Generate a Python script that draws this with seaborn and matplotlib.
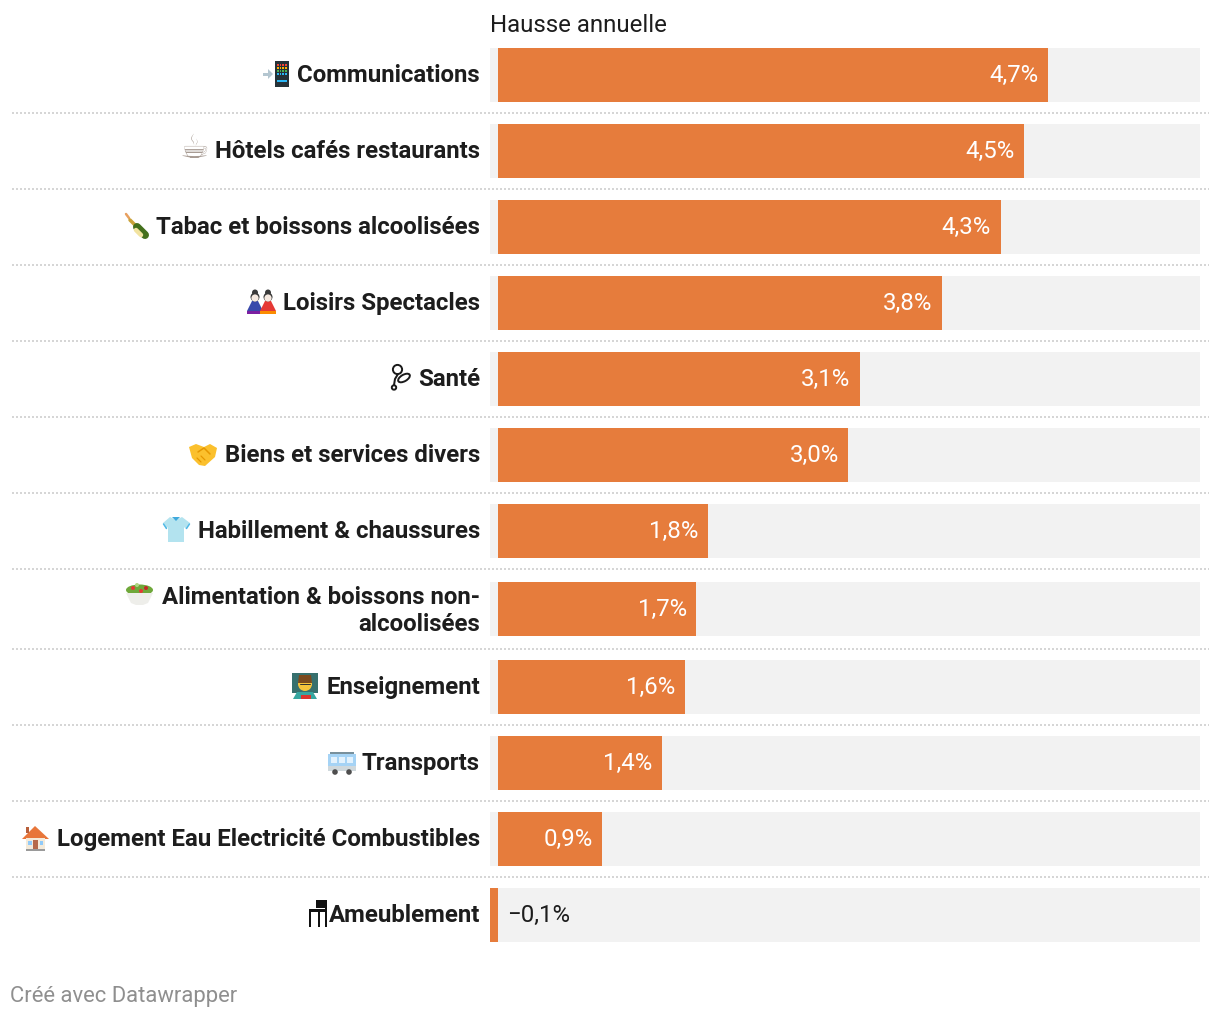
import matplotlib
matplotlib.use("Agg")
import matplotlib.pyplot as plt
from matplotlib.lines import Line2D
from matplotlib.patches import Rectangle, Circle, Polygon, Ellipse
from matplotlib.transforms import ScaledTranslation
import seaborn as sns
import pandas as pd

categories = ["Communications", "Hôtels cafés restaurants", "Tabac et boissons alcoolisées",
              "Loisirs Spectacles", "Santé", "Biens et services divers", "Habillement & chaussures",
              "Alimentation & boissons non-\nalcoolisées", "Enseignement", "Transports",
              "Logement Eau Electricité Combustibles", "Ameublement"]
values = [4.7, 4.5, 4.295, 3.797, 3.095, 2.995, 1.797, 1.695, 1.595, 1.4, 0.893, -0.068]
value_labels = ["4,7%", "4,5%", "4,3%", "3,8%", "3,1%", "3,0%", "1,8%", "1,7%", "1,6%", "1,4%", "0,9%", "−0,1%"]
title = "Hausse annuelle"
credit = "Créé avec Datawrapper"

# layout (pixels)
W, H = 1220, 1018
row_centers = [75, 151, 227, 303, 379, 455, 531, 609, 687, 763, 839, 915]
rule_y = [113, 189, 265, 341, 417, 493, 569, 649, 725, 801, 877]
ORANGE, TRACK, INK = "#e67c3c", "#f2f2f2", "#1d1d1d"
FS = 24 * 0.72

sns.set_theme(style="white")
plt.rcParams["font.family"] = ["Roboto", "DejaVu Sans"]

fig = plt.figure(figsize=(W / 100, H / 100), dpi=100, facecolor="white")
ax = fig.add_axes([490 / W, 0, 710 / W, 1])
ax.patch.set_alpha(0)
df = pd.DataFrame({"cat": categories, "value": values, "pos": row_centers})

ax.barh(row_centers, [6.0 + 0.068] * len(values), left=-0.068, height=54, color=TRACK, lw=0, zorder=1)
sns.barplot(data=df, x="value", y="pos", orient="h", native_scale=True, color=ORANGE,
            saturation=1, width=54 / 76, linewidth=0, errorbar=None, ax=ax, zorder=2)
ax.set_xlim(-0.068, 6.0)
ax.set_ylim(H, 0)
sns.despine(ax=ax, left=True, bottom=True)
ax.set_xticks([])
ax.set_xlabel("")
ax.set_ylabel("")
ax.set_yticks(row_centers)
ax.set_yticklabels(categories, fontsize=FS, fontweight="bold", color=INK, linespacing=1.25)
ax.tick_params(axis="y", length=0, pad=10 * 0.72)
for lab in ax.get_yticklabels():
    shift = 3.0 if "\n" in lab.get_text() else 2.0
    lab.set_transform(lab.get_transform() + ScaledTranslation(0, shift / 100, fig.dpi_scale_trans))

for y, v, lab in zip(row_centers, values, value_labels):
    if v > 0:
        ax.annotate(lab, (v, y), xytext=(-9.5 * 0.72, 1.44), textcoords="offset points", ha="right",
                    va="center_baseline", color="white", fontsize=FS, zorder=3)
    else:
        ax.annotate(lab, (0, y), xytext=(9 * 0.72, 1.44), textcoords="offset points", ha="left",
                    va="center_baseline", color=INK, fontsize=FS, zorder=3)

fig.text(490 / W, 1 - 23 / H, title, ha="left", va="center_baseline", fontsize=FS, color=INK)
fig.text(10 / W, 1 - 994 / H, credit, ha="left", va="center_baseline", fontsize=22 * 0.72, color="#8f8f8f")
fig.text(194.5 / W, 1 - 149 / H, "☕", ha="center", va="center", fontsize=33 * 0.72,
         family=["DejaVu Sans"], color="#a89c94")

for y in rule_y:
    fig.add_artist(Line2D([12 / W, 1209 / W], [1 - y / H] * 2, color="#d6d6d6", lw=1.44,
                          ls=(0, (1, 1)), dash_capstyle="butt"))

# Pictograms: no installed font has these emoji glyphs, so they are small shapes in pixel space
ic = fig.add_axes([0, 0, 1, 1], zorder=5)
ic.set_xlim(0, W); ic.set_ylim(H, 0); ic.axis("off"); ic.patch.set_alpha(0)
def R(x, y, w, h, c): ic.add_patch(Rectangle((x, y), w, h, fc=c, lw=0))
def C(x, y, r, c): ic.add_patch(Circle((x, y), r, fc=c, lw=0))
def P(pts, c): ic.add_patch(Polygon(pts, fc=c, lw=0))
def L(xs, ys, c, w): ic.add_line(Line2D(xs, ys, color=c, lw=w * 0.72, solid_capstyle="round"))

# phone with arrow
R(263, 72.5, 6, 3, "#b4c6d0"); P([(268, 69), (273, 74), (268, 79)], "#b4c6d0")
R(275, 60.5, 14, 26.5, "#263238")
for i, col in enumerate(["#f44336", "#ffb300", "#4caf50", "#29b6f6"]):
    for j in range(4):
        R(276.8 + j * 2.7, 63.5 + i * 3, 1.8, 2, col)
R(277, 80, 10, 2, "#29b6f6")
# bottle
L([126, 129], [214, 218], "#e8a060", 2.5)
L([130, 136], [220, 226], "#c9a23a", 3.5)
L([137, 145], [227, 235], "#44701c", 8)
L([136, 141], [230, 235], "#f2e3a0", 4.5)
# dolls
for cx, body, base in [(255, "#3949ab", "#7b1fa2"), (268, "#e53935", "#fb8c00")]:
    P([(cx - 8, 311), (cx - 3, 301), (cx + 3, 301), (cx + 8, 311)], body)
    C(cx, 292.5, 3, "#3a3a3a")
    C(cx, 297, 4.5, "#3a3a3a")
    C(cx, 298, 3.6, "#f6e9e0")
    R(cx - 8, 311, 16, 3, base)
# stethoscope
DK = "#1a1a1a"
ic.add_patch(Circle((397.5, 369.5), 4.6, fc="none", ec=DK, lw=1.4))
ic.add_patch(Ellipse((404, 378), 13, 6.5, angle=-30, fc="none", ec=DK, lw=1.4))
L([398, 395, 394], [374, 379, 385], DK, 2)
ic.add_patch(Circle((394, 387.5), 2.2, fc="white", ec=DK, lw=1.4))
# handshake
P([(189, 447), (196, 444), (204, 447), (210, 444), (217, 448), (215, 457), (205, 466), (199, 465), (192, 458)], "#fbc02d")
L([198, 204, 210], [452, 448, 454], "#e59600", 1.5)
L([197, 201], [458, 462], "#e59600", 1.2); L([201, 205], [456, 460], "#e59600", 1.2)
# t-shirt
P([(170, 517), (176, 520), (182, 517), (190, 523), (186, 529), (184, 527), (184, 542), (168, 542), (168, 527), (166, 529), (163, 523)], "#b3e3ef")
P([(172, 517), (176, 521), (180, 517)], "#3fa9dc")
L([163.5, 166.5], [524, 528.5], "#4fb8e6", 1.5); L([189.5, 186.5], [524, 528.5], "#4fb8e6", 1.5)
# salad
ic.add_patch(Ellipse((139.5, 590), 27, 11, fc="#6fa83a", lw=0))
for x, y, c in [(133, 588, "#e53935"), (141, 591, "#e53935"), (146, 588, "#c62828"), (137, 585, "#aed581")]:
    C(x, y, 2, c)
P([(126, 593), (153, 593), (148, 603), (143, 605), (136, 605), (131, 603)], "#eeeeea")
# teacher
R(292, 673, 26, 20, "#37706e")
C(305, 684, 7, "#f5c33b"); P([(298, 683), (299, 675), (311, 675), (312, 683)], "#7b4a1e")
P([(293, 699), (297, 692), (313, 692), (317, 699)], "#35a6a0")
R(301, 695, 10, 4, "#d9362e")
L([300, 310], [684, 684], "#333333", 1)
# bus
R(328, 754, 28, 17, "#a5d3f5"); R(331, 757, 6, 6, "#e3f2fd"); R(339, 757, 6, 6, "#e3f2fd"); R(347, 757, 6, 6, "#e3f2fd")
R(328, 766, 28, 5, "#cfd8dc"); R(330, 752, 24, 2, "#78909c")
C(335, 772, 2.8, "#4e4e4e"); C(349, 772, 2.8, "#4e4e4e")
# house
P([(22, 839), (35, 826), (49, 839)], "#e8763a"); R(26, 827, 3, 6, "#b85f3a")
R(26, 838, 19, 11, "#f4ead9"); R(33, 840, 5, 9, "#b5694a")
R(28, 841, 3.5, 4, "#90caf9"); R(39.5, 841, 3.5, 4, "#90caf9")
R(26, 849, 19, 2, "#9a9a9a")
# chair
R(316, 900, 10.5, 8, "#111111"); R(324.5, 900, 2.5, 27, "#111111")
R(309, 909, 18, 3, "#111111"); R(309, 910, 2, 17, "#111111"); R(318, 910, 2, 17, "#111111")

fig.savefig("out.png", dpi=100, facecolor="white")
